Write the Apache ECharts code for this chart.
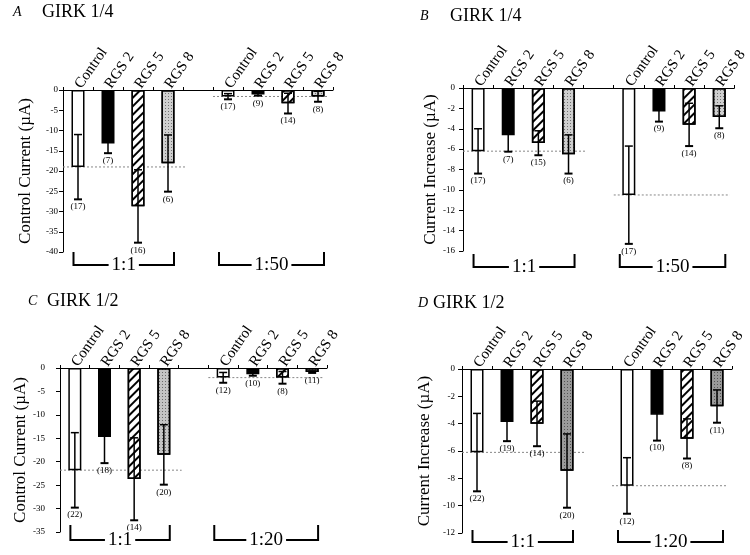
<!DOCTYPE html>
<html><head><meta charset="utf-8">
<script src="https://cdn.jsdelivr.net/npm/echarts@6/dist/echarts.min.js"></script>
<style>html,body{margin:0;padding:0;background:#fff}#c{width:750px;height:555px}</style>
</head><body><div id="c"></div>
<script>
// ---- data ----
const categories = ['Control','RGS 2','RGS 5','RGS 8','','Control','RGS 2','RGS 5','RGS 8'];

const aMean = [-19.0, -13.2, -28.7, -18.1, null, -1.6, -1.1, -3.3, -1.6];
const aSE   = [8.0, 2.4, 9.0, 7.0, null, 0.7, 0.3, 2.5, 1.3];
const aN    = ['(17)','(7)','(16)','(6)','','(17)','(9)','(14)','(8)'];
const aGroups = ['1:1','1:50'];

const bMean = [-6.2, -4.65, -5.4, -6.5, null, -10.5, -2.3, -3.6, -2.85];
const bSE   = [2.2, 1.6, 1.2, 1.9, null, 4.8, 1.0, 2.1, 1.1];
const bN    = ['(17)','(7)','(15)','(6)','','(17)','(9)','(14)','(8)'];
const bGroups = ['1:1','1:50'];

const cMean = [-21.8, -14.7, -23.7, -18.5, null, -2.05, -1.35, -2.05, -0.85];
const cSE   = [8.0, 5.6, 8.8, 6.4, null, 1.1, 0.3, 1.3, 0.2];
const cN    = ['(22)','(18)','(14)','(20)','','(12)','(10)','(8)','(11)'];
const cGroups = ['1:1','1:20'];

const dMean = [-6.1, -3.88, -4.0, -7.45, null, -8.54, -3.34, -5.1, -2.73];
const dSE   = [2.85, 1.4, 1.65, 2.7, null, 2.05, 1.9, 1.45, 1.2];
const dN    = ['(22)','(19)','(14)','(20)','','(12)','(10)','(8)','(11)'];
const dGroups = ['1:1','1:20'];

const yTicksA = {min:-40, max:0, interval:5};
const yTicksB = {min:-16, max:0, interval:2};
const yTicksC = {min:-35, max:0, interval:5};
const yTicksD = {min:-12, max:0, interval:2};

// ---- layout / style ----
const FONT = "'Liberation Serif','Times New Roman',serif";
const panels = [
  {letter:'A', title:'GIRK 1/4', yName:'Control Current (\u00b5A)', mean:aMean, se:aSE, n:aN, groups:aGroups, ticks:yTicksA,
   grid:{left:63, top:90, width:270, height:162}, nameGap:29, labelMargin:5, gray:'#cfcfcf', br:[0,13],
   lt:{x:13,y:5}, tt:{x:42,y:3}},
  {letter:'B', title:'GIRK 1/4', yName:'Current Increase (\u00b5A)', mean:bMean, se:bSE, n:bN, groups:bGroups, ticks:yTicksB,
   grid:{left:463, top:88, width:277, height:163}, nameGap:21, labelMargin:8, gray:'#cfcfcf', br:[3,16],
   lt:{x:420,y:9}, tt:{x:450,y:7}},
  {letter:'C', title:'GIRK 1/2', yName:'Control Current (\u00b5A)', mean:cMean, se:cSE, n:cN, groups:cGroups, ticks:yTicksC,
   grid:{left:60, top:368, width:267, height:164}, nameGap:27, labelMargin:15, gray:'#c4c4c4', br:[-7,8],
   lt:{x:28,y:294}, tt:{x:47,y:292}},
  {letter:'D', title:'GIRK 1/2', yName:'Current Increase (\u00b5A)', mean:dMean, se:dSE, n:dN, groups:dGroups, ticks:yTicksD,
   grid:{left:462, top:369, width:270, height:164}, nameGap:29, labelMargin:7, gray:'#9a9a9a', br:[-3,9],
   lt:{x:418,y:296}, tt:{x:433,y:294}}
];

function barStyle(k, gray){
  const base = {borderColor:'#000', borderWidth:1.5};
  if (k===0) return Object.assign({color:'#fff'}, base);
  if (k===1) return Object.assign({color:'#000'}, base);
  if (k===2) return Object.assign({color:'#fff', decal:{symbol:'rect', symbolSize:1, color:'#000',
      dashArrayX:[1,0], dashArrayY:[2,4], rotation:-Math.PI/4}}, base);
  return Object.assign({color:gray, decal:{symbol:'rect', symbolSize:1, color:'rgba(0,0,0,0.45)',
      dashArrayX:[1,2], dashArrayY:[1,2]}}, base);
}

const option = {animation:false, backgroundColor:'#fff', grid:[], xAxis:[], yAxis:[], series:[], graphic:[]};

panels.forEach((p, i) => {
  option.grid.push(Object.assign({containLabel:false}, p.grid));
  option.xAxis.push({type:'category', gridIndex:i, position:'top', data:categories, boundaryGap:true,
    axisLine:{onZero:false, lineStyle:{color:'#000', width:1}},
    axisTick:{show:true, length:3, lineStyle:{color:'#000'}},
    axisLabel:{rotate:-55, interval:0, fontSize:15, fontFamily:FONT, color:'#000', margin:3},
    splitLine:{show:false}});
  option.yAxis.push({type:'value', gridIndex:i, min:p.ticks.min, max:p.ticks.max, interval:p.ticks.interval,
    axisLine:{show:true, lineStyle:{color:'#000', width:1}},
    axisTick:{show:true, length:4, lineStyle:{color:'#000'}},
    axisLabel:{fontSize:9, fontFamily:FONT, color:'#000', margin:p.labelMargin},
    splitLine:{show:false},
    name:p.yName, nameLocation:'middle', nameGap:p.nameGap,
    nameTextStyle:{fontSize:17, fontFamily:FONT, color:'#000'}});

  // bars
  option.series.push({type:'bar', xAxisIndex:i, yAxisIndex:i, barWidth:13, z:2,
    data:p.mean.map((v,j)=> v==null ? '-' : {value:v, itemStyle:barStyle(j%5, p.gray)})});

  // reference dashed lines at control mean of each group
  const refData = p.groups.map((g,gi)=>[gi, p.mean[gi*5]]);
  option.series.push({type:'custom', xAxisIndex:i, yAxisIndex:i, z:1, data:refData,
    renderItem:(params, api)=>{
      const gi = api.value(0), y = api.value(1);
      const o = api.coord([0, y]); const band = api.size([1,0])[0];
      const span = gi===0 ? [-0.5, 3.6] : [4.5, 8.35];
      return {type:'line', shape:{x1:o[0]+span[0]*band, y1:o[1], x2:o[0]+span[1]*band, y2:o[1]},
        style:{stroke:'#888', lineWidth:1, lineDash:[2,2]}};
    }});

  // error bars + n labels
  const errData = [];
  p.mean.forEach((v,j)=>{ if (v!=null) errData.push([j, v, p.se[j]]); });
  option.series.push({type:'custom', xAxisIndex:i, yAxisIndex:i, z:5, data:errData,
    renderItem:(params, api)=>{
      const x = api.value(0), m = api.value(1), s = api.value(2);
      const t = api.coord([x, m+s]), b = api.coord([x, m-s]);
      const cw = 4;
      return {type:'group', children:[
        {type:'line', shape:{x1:t[0], y1:t[1], x2:b[0], y2:b[1]}, style:{stroke:'#000', lineWidth:1.5}},
        {type:'line', shape:{x1:t[0]-cw, y1:t[1], x2:t[0]+cw, y2:t[1]}, style:{stroke:'#000', lineWidth:1.5}},
        {type:'line', shape:{x1:b[0]-cw, y1:b[1], x2:b[0]+cw, y2:b[1]}, style:{stroke:'#000', lineWidth:2}},
        {type:'text', x:b[0], y:b[1]+3, style:{text:p.n[x], fontSize:9, fontFamily:FONT, fill:'#000',
          align:'center', verticalAlign:'top'}}
      ]};
    }});

  // group brackets with ratio labels
  const brData = p.groups.map((g,gi)=>[gi, p.ticks.min]);
  option.series.push({type:'custom', xAxisIndex:i, yAxisIndex:i, z:6, clip:false, data:brData,
    renderItem:(params, api)=>{
      const gi = api.value(0);
      const o = api.coord([0, api.value(1)]); const band = api.size([1,0])[0];
      const span = gi===0 ? [-0.15, 3.2] : [4.7, 8.2];
      const x1 = o[0]+span[0]*band, x2 = o[0]+span[1]*band;
      const yt = o[1]+p.br[0], yb = o[1]+p.br[1];
      return {type:'group', children:[
        {type:'polyline', shape:{points:[[x1,yt],[x1,yb],[x2,yb],[x2,yt]]}, style:{stroke:'#000', lineWidth:2, fill:null}},
        {type:'text', x:(x1+x2)/2, y:yb, style:{text:p.groups[gi], fontSize:19, fontFamily:FONT, fill:'#000',
          align:'center', verticalAlign:'middle', backgroundColor:'#fff', padding:[0,3]}}
      ]};
    }});

  // panel titles
  option.graphic.push({type:'text', left:p.lt.x, top:p.lt.y, style:{text:p.letter, fontSize:14, fontStyle:'italic', fontFamily:FONT, fill:'#000'}});
  option.graphic.push({type:'text', left:p.tt.x, top:p.tt.y, style:{text:p.title, fontSize:18, fontFamily:FONT, fill:'#000'}});
});

const chart = echarts.init(document.getElementById('c'));
chart.setOption(option);
</script></body></html>
